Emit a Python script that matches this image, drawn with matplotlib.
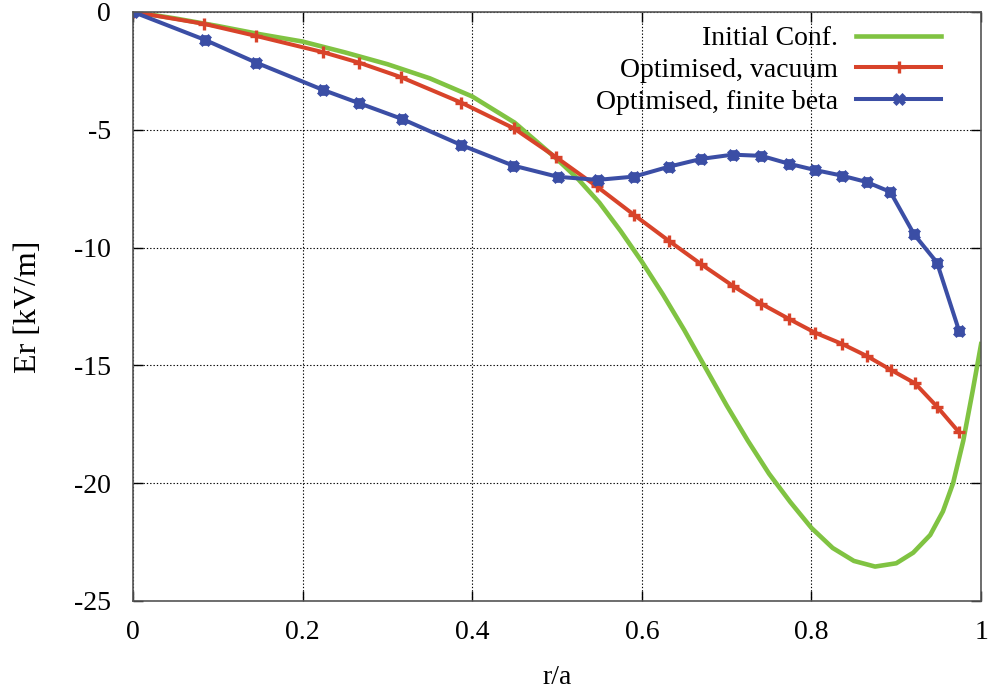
import matplotlib
matplotlib.use("Agg")
import matplotlib.pyplot as plt

plt.rcParams['font.family'] = ['Liberation Serif', 'DejaVu Serif']
plt.rcParams['axes.unicode_minus'] = False

# initial configuration (smooth curve)
r_init = [0.0, 0.05, 0.10, 0.15, 0.20, 0.25, 0.30, 0.35, 0.40, 0.45, 0.50, 0.525,
          0.55, 0.575, 0.60, 0.625, 0.65, 0.675, 0.70, 0.725, 0.75, 0.775, 0.80,
          0.825, 0.85, 0.875, 0.90, 0.92, 0.94, 0.955, 0.967, 0.979, 0.99, 1.0]
er_init = [0.0, -0.28, -0.60, -0.95, -1.26, -1.72, -2.22, -2.82, -3.59, -4.70, -6.25, -7.1,
           -8.1, -9.3, -10.6, -12.0, -13.5, -15.1, -16.7, -18.2, -19.6, -20.8, -21.9,
           -22.75, -23.3, -23.54, -23.4, -22.95, -22.2, -21.2, -20.0, -18.2, -16.1, -14.1]

# optimised, vacuum
r_vac = [0.0, 0.084, 0.145, 0.224, 0.267, 0.316, 0.387, 0.449, 0.499, 0.547, 0.591,
         0.632, 0.670, 0.707, 0.741, 0.774, 0.804, 0.836, 0.865, 0.894, 0.922, 0.948, 0.974]
er_vac = [0.0, -0.51, -1.02, -1.71, -2.16, -2.77, -3.85, -4.94, -6.17, -7.41, -8.62,
          -9.72, -10.71, -11.62, -12.39, -13.04, -13.61, -14.09, -14.60, -15.20, -15.76, -16.75, -17.84]

# optimised, finite beta
r_beta = [0.0, 0.085, 0.145, 0.224, 0.267, 0.317, 0.387, 0.448, 0.501, 0.548, 0.591,
          0.632, 0.670, 0.707, 0.741, 0.774, 0.804, 0.836, 0.865, 0.893, 0.921, 0.948, 0.974]
er_beta = [0.0, -1.19, -2.15, -3.31, -3.88, -4.54, -5.65, -6.52, -7.00, -7.13, -6.99,
           -6.57, -6.24, -6.06, -6.11, -6.45, -6.71, -6.95, -7.22, -7.64, -9.44, -10.64, -13.53]

fig = plt.figure(figsize=(9.92, 6.98), dpi=100)
ax = fig.add_axes([0.134, 0.139, 0.855, 0.844])

ax.plot(r_init, er_init, color='#80c342', lw=3.3, label='Initial Conf.')
ax.plot(r_vac, er_vac, color='#d8432a', lw=2.9, marker='+', ms=8, mew=2.4,
        label='Optimised, vacuum')
ax.plot(r_beta, er_beta, color='#3b4ea5', lw=2.9, marker='X', ms=9, mew=0.5,
        label='Optimised, finite beta')
ax.plot(r_beta, er_beta, color='#3b4ea5', lw=0, marker='P', ms=7.5, mew=0.5)

ax.set_xlim(0, 1)
ax.set_ylim(-25, 0)
ax.set_xticks([0, 0.2, 0.4, 0.6, 0.8, 1])
ax.set_xticklabels(['0', '0.2', '0.4', '0.6', '0.8', '1'])
ax.set_yticks([0, -5, -10, -15, -20, -25])
ax.grid(True, color='black', ls=(0, (1.2, 1.8)), lw=0.8)
ax.tick_params(direction='in', length=7, width=1, top=True, right=True,
               labelsize=20)
ax.tick_params(axis='x', pad=14)
ax.tick_params(axis='y', pad=16)
for s in ax.spines.values():
    s.set_color('#555555')
    s.set_linewidth(1.2)

ax.set_xlabel('r/a', fontsize=20, labelpad=14)
ax.set_ylabel('Er [kV/m]', fontsize=23, labelpad=22)

leg = ax.legend(loc='upper right', frameon=False, markerfirst=False, fontsize=20,
                handlelength=3.05, labelspacing=0.25, borderaxespad=0.25,
                handletextpad=0.65, bbox_to_anchor=(0.974, 1.007))
leg._legend_box.align = 'right'
for hp in leg._legend_box.get_children()[1].get_children()[0].get_children():
    hp.align = 'right'

fig.savefig('out.png', dpi=100)
